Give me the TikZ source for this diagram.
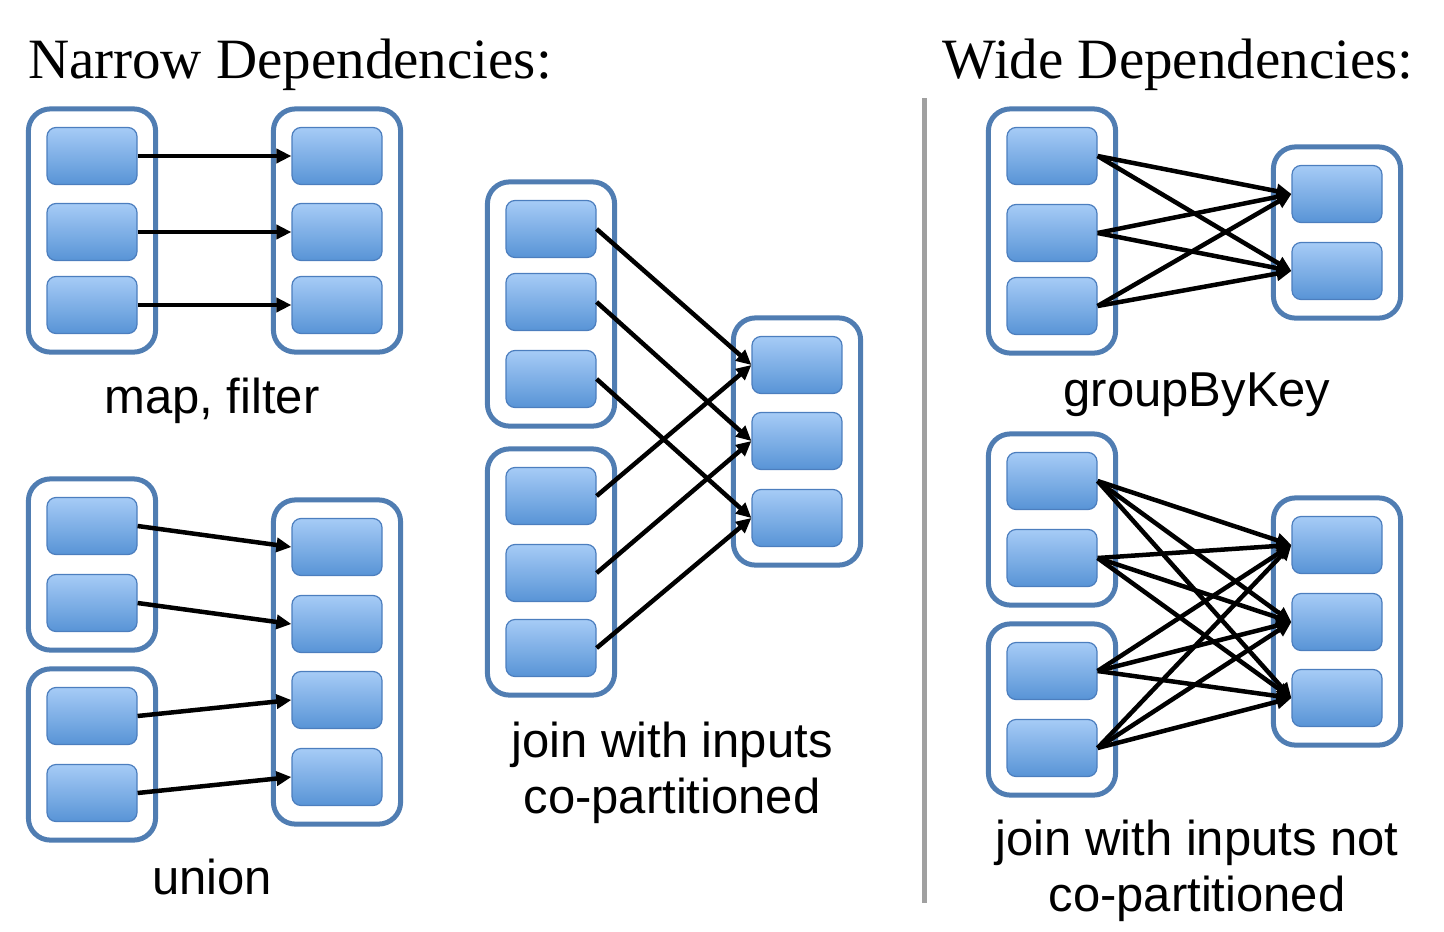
\documentclass[tikz,border=0pt]{standalone}
\usepackage{fontspec}
\setmainfont{Liberation Serif}
\setsansfont{Liberation Sans}
\usepackage{tikz}
\usetikzlibrary{arrows.meta}
\usetikzlibrary{fit}
\usetikzlibrary{positioning}
\definecolor{boxtop}{RGB}{166,203,246}
\definecolor{boxbot}{RGB}{88,148,214}
\definecolor{boxline}{RGB}{76,126,190}
\definecolor{rddline}{RGB}{80,125,178}
\definecolor{sepgray}{RGB}{160,160,160}

\begin{document}
\begin{tikzpicture}[
  x=1pt, y=-1pt,
  part/.style={draw=boxline, line width=1.2pt, rounded corners=9pt,
    top color=boxtop, bottom color=boxbot,
    minimum width=90pt, minimum height=57pt, inner sep=0pt},
  rdd/.style={draw=rddline, line width=5pt, rounded corners=22pt, inner sep=18pt},
  dep/.style={-{Triangle[length=15pt,width=14pt]}, line width=4.5pt},
  ttl/.style={anchor=base, font=\fontsize{57}{64}\selectfont},
  lbl/.style={anchor=base, align=center, font=\sffamily\fontsize{49}{56}\selectfont}]
  \useasboundingbox (0,0) rectangle (1444,932);

  \node[ttl] (narrow) at (290,78) {Narrow Dependencies:};
  \node[ttl] (wide) at (1178,78) {Wide Dependencies:};
  \draw[sepgray, line width=5pt] (924,98) -- (924,903);

  \foreach \i/\y in {1/156,2/232,3/305} {
    \node[part] (mf\i) at (92,\y) {};
    \node[part] (mg\i) at (337,\y) {};
  }
  \node[rdd, fit=(mf1)(mf3)] (mfin) {};
  \node[rdd, fit=(mg1)(mg3)] (mfout) {};
  \foreach \i in {1,2,3}
    \draw[dep] (mf\i.east) -- (mg\i.west);
  \node[lbl] (mflbl) at (212,413) {map, filter};

  \foreach \i/\y/\z in {1/526/547,2/603/624,3/716/700,4/793/777} {
    \node[part] (un\i) at (92,\y) {};
    \node[part] (uo\i) at (337,\z) {};
  }
  \node[rdd, fit=(un1)(un2)] (unina) {};
  \node[rdd, fit=(un3)(un4)] (uninb) {};
  \node[rdd, fit=(uo1)(uo4)] (unout) {};
  \foreach \i in {1,...,4}
    \draw[dep] (un\i.east) -- (uo\i.west);
  \node[lbl] (unlbl) at (212,894) {union};

  \foreach \i/\y in {1/229,2/302,3/379,4/496,5/573,6/648}
    \node[part] (jl\i) at (551,\y) {};
  \foreach \i/\y in {1/365,2/441,3/518}
    \node[part] (jr\i) at (797,\y) {};
  \node[rdd, fit=(jl1)(jl3)] (jina) {};
  \node[rdd, fit=(jl4)(jl6)] (jinb) {};
  \node[rdd, fit=(jr1)(jr3)] (jout) {};
  \foreach \i/\j in {1/1,2/2,3/3,4/1,5/2,6/3}
    \draw[dep] (jl\i.east) -- (jr\j.west);
  \node[lbl] (jlbl) at (672,813) {join with inputs\\co-partitioned};

  \foreach \i/\y in {1/156,2/233,3/306}
    \node[part] (gl\i) at (1052,\y) {};
  \foreach \i/\y in {1/194,2/271}
    \node[part] (gr\i) at (1337,\y) {};
  \node[rdd, fit=(gl1)(gl3)] (gin) {};
  \node[rdd, fit=(gr1)(gr2)] (gout) {};
  \foreach \i in {1,2,3}
    \foreach \j in {1,2}
      \draw[dep] (gl\i.east) -- (gr\j.west);
  \node[lbl] (glbl) at (1197,406) {groupByKey};

  \foreach \i/\y in {1/481,2/558,3/671,4/748}
    \node[part] (nl\i) at (1052,\y) {};
  \foreach \i/\y in {1/545,2/622,3/698}
    \node[part] (nr\i) at (1337,\y) {};
  \node[rdd, fit=(nl1)(nl2)] (nina) {};
  \node[rdd, fit=(nl3)(nl4)] (ninb) {};
  \node[rdd, fit=(nr1)(nr3)] (nout) {};
  \foreach \i in {1,...,4}
    \foreach \j in {1,2,3}
      \draw[dep] (nl\i.east) -- (nr\j.west);
  \node[lbl] (nlbl) at (1197,911) {join with inputs not\\co-partitioned};
\end{tikzpicture}
\end{document}
